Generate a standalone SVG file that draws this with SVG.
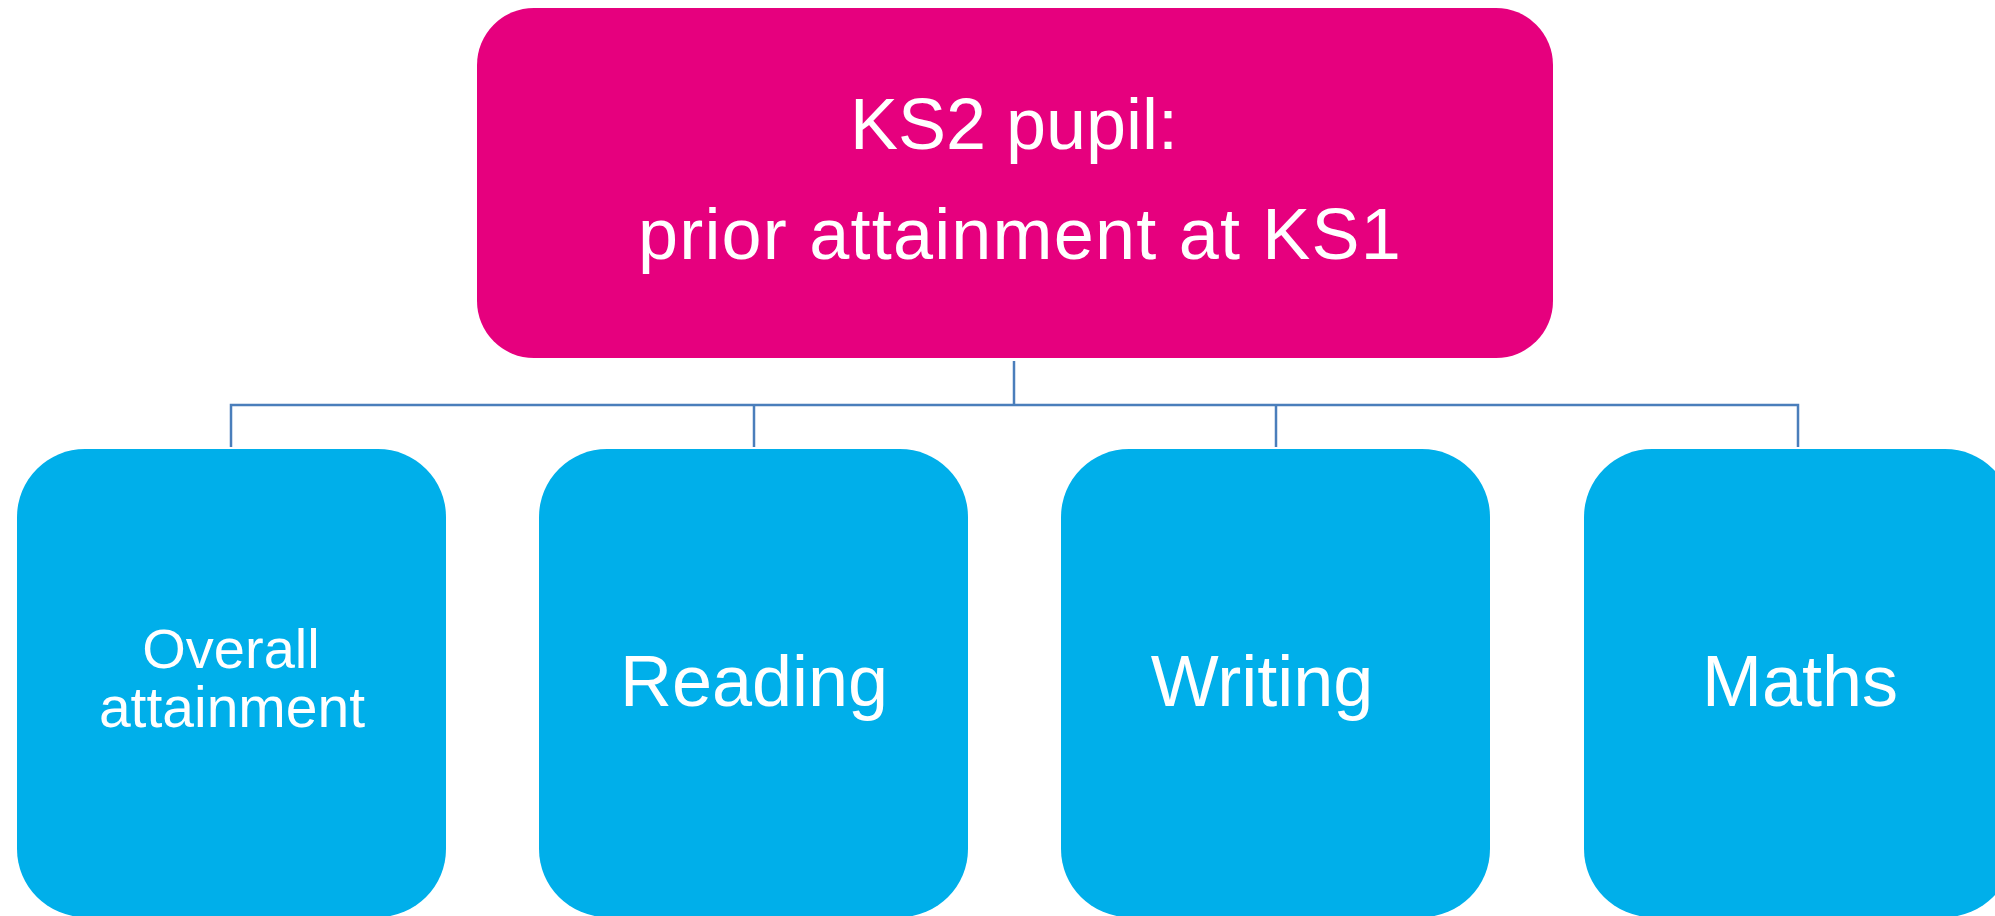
<svg xmlns="http://www.w3.org/2000/svg" width="1995" height="916" viewBox="0 0 1995 916">
<style>
.top{fill:#E6007E}
.sub{fill:#00AFEA}
.t{fill:#FFFFFF;font-family:"Liberation Sans",Arial,sans-serif;text-anchor:middle}
.conn{stroke:#4A7EBB;stroke-width:2.5;fill:none}
</style>
<rect width="1995" height="916" fill="#FFFFFF"/>
<g id="connectors">
<line class="conn" x1="1014" y1="361" x2="1014" y2="405"/>
<polyline class="conn" points="231,447 231,405 1798,405 1798,447"/>
<line class="conn" x1="754" y1="405" x2="754" y2="447"/>
<line class="conn" x1="1276" y1="405" x2="1276" y2="447"/>
</g>
<g id="node-ks2">
<rect class="top" x="477" y="8" width="1076" height="350" rx="57" ry="57"/>
<text class="t" x="1014" y="149" font-size="72">KS2 pupil:</text>
<text class="t" x="1020" y="259" font-size="72" letter-spacing="1.2">prior attainment at KS1</text>
</g>
<g id="node-overall">
<rect class="sub" x="17" y="449" width="429" height="468" rx="68" ry="68"/>
<text class="t" x="231" y="668" font-size="56">Overall</text>
<text class="t" x="232" y="727" font-size="57">attainment</text>
</g>
<g id="node-reading">
<rect class="sub" x="539" y="449" width="429" height="468" rx="68" ry="68"/>
<text class="t" x="754" y="706" font-size="72">Reading</text>
</g>
<g id="node-writing">
<rect class="sub" x="1061" y="449" width="429" height="468" rx="68" ry="68"/>
<text class="t" x="1262" y="706" font-size="72">Writing</text>
</g>
<g id="node-maths">
<rect class="sub" x="1584" y="449" width="429" height="468" rx="68" ry="68"/>
<text class="t" x="1800" y="706" font-size="72">Maths</text>
</g>
</svg>
